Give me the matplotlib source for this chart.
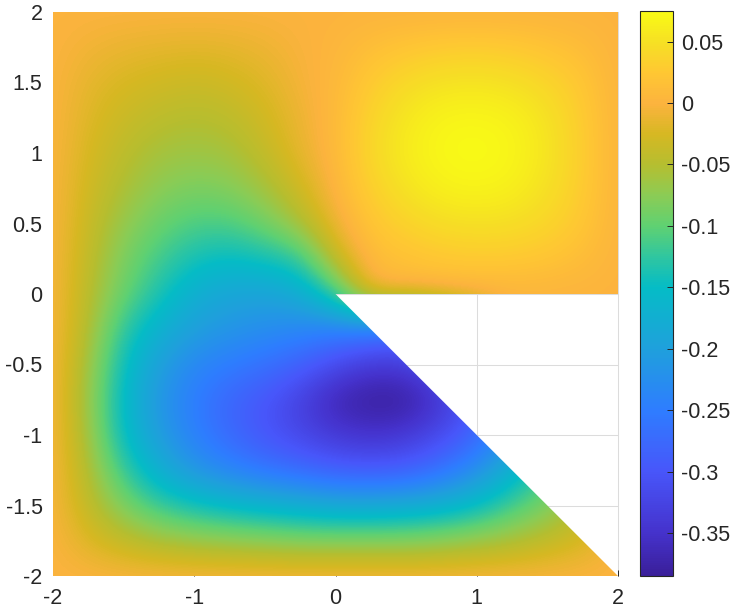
import numpy as np
import matplotlib
matplotlib.use("Agg")
import matplotlib.pyplot as plt
from matplotlib.colors import LinearSegmentedColormap, Normalize
from matplotlib.patches import Polygon

plt.rcParams["font.family"] = ["Liberation Sans", "DejaVu Sans"]
plt.rcParams["axes.unicode_minus"] = False

# field values on a 0.25 grid (x from -2 to 2)
# entries inside the cut-out wedge are never seen, they only keep the edge smooth
row_p200 = [0, 0, 0, 0, 0, 0, 0, 0, 0, 0, 0, 0, 0, 0, 0, 0, 0]
row_p175 = [0, -.007, -.012, -.015, -.017, -.015, -.010, -.002, .003, .014, .022, .028, .030, .027, .020, .012, 0]
row_p150 = [0, -.015, -.025, -.030, -.035, -.030, -.020, -.005, .006, .028, .044, .052, .054, .050, .040, .024, 0]
row_p125 = [0, -.020, -.035, -.045, -.050, -.045, -.030, -.010, .008, .038, .057, .068, .070, .066, .052, .030, 0]
row_p100 = [0, -.025, -.045, -.060, -.065, -.060, -.040, -.015, .008, .042, .061, .072, .075, .070, .055, .032, 0]
row_p075 = [0, -.030, -.055, -.075, -.085, -.080, -.060, -.030, .003, .034, .053, .065, .068, .064, .050, .030, 0]
row_p050 = [0, -.035, -.070, -.095, -.110, -.110, -.090, -.055, -.008, .022, .037, .047, .050, .048, .040, .024, 0]
row_p025 = [0, -.040, -.085, -.115, -.140, -.150, -.140, -.125, -.035, .010, .018, .025, .028, .027, .022, .012, 0]
row_000 = [0, -.045, -.095, -.135, -.175, -.190, -.195, -.180, -.120, 0, 0, 0, 0, 0, 0, 0, 0]
row_m025 = [0, -.050, -.125, -.170, -.200, -.215, -.225, -.235, -.245, -.250, -.270, -.200, -.100, 0, 0, 0, 0]
row_m050 = [0, -.060, -.145, -.200, -.235, -.250, -.265, -.285, -.315, -.340, -.335, -.300, -.250, -.100, 0, 0, 0]
row_m075 = [0, -.065, -.155, -.215, -.250, -.280, -.300, -.330, -.370, -.385, -.385, -.345, -.300, -.200, -.100, 0, 0]
row_m100 = [0, -.060, -.150, -.205, -.245, -.275, -.300, -.320, -.340, -.350, -.340, -.315, -.280, -.220, -.150, -.050, 0]
row_m125 = [0, -.050, -.120, -.175, -.215, -.240, -.260, -.275, -.290, -.295, -.290, -.265, -.225, -.170, -.120, -.060, 0]
row_m150 = [0, -.040, -.085, -.120, -.140, -.155, -.165, -.175, -.185, -.185, -.180, -.170, -.150, -.115, -.085, -.050, 0]
row_m175 = [0, -.020, -.040, -.055, -.065, -.070, -.075, -.080, -.080, -.080, -.080, -.075, -.065, -.055, -.040, -.025, 0]
row_m200 = [0, 0, 0, 0, 0, 0, 0, 0, 0, 0, 0, 0, 0, 0, 0, 0, 0]

# domain outline (square with the wedge taken out)
domain_x = [-2, 2, 0, 2, 2, -2]
domain_y = [-2, -2, 0, 0, 2, 2]

cbar_values = [-0.35, -0.3, -0.25, -0.2, -0.15, -0.1, -0.05, 0, 0.05]
cbar_labels = ["-0.35", "-0.3", "-0.25", "-0.2", "-0.15", "-0.1", "-0.05", "0", "0.05"]
x_ticks = [-2, -1, 0, 1, 2]
x_labels = ["-2", "-1", "0", "1", "2"]
y_ticks = [-2, -1.5, -1, -0.5, 0, 0.5, 1, 1.5, 2]
y_labels = ["-2", "-1.5", "-1", "-0.5", "0", "0.5", "1", "1.5", "2"]

vmin, vmax = -0.3846, 0.0748

# colours taken from the colorbar, bottom to top
cmap_values = [-0.3846, -0.35, -0.30, -0.25, -0.20, -0.15, -0.125, -0.10, -0.075, -0.05, -0.025, 0, 0.025, 0.05, 0.0748]
cmap_colors = ["#3A1F9A", "#4532CC", "#4856FA", "#2E7DFF", "#1FA0DC", "#05BCC6", "#2FC6A0",
               "#5FD172", "#8BCC55", "#B5BE30", "#D6B822", "#FCB33E", "#FFC733", "#F6E024", "#F9FB15"]
stops = [(v - vmin) / (vmax - vmin) for v in cmap_values]
cmap = LinearSegmentedColormap.from_list("field", list(zip(stops, cmap_colors)), N=256)
norm = Normalize(vmin, vmax)

grid = np.array([row_p200, row_p175, row_p150, row_p125, row_p100, row_p075, row_p050, row_p025, row_000,
                 row_m025, row_m050, row_m075, row_m100, row_m125, row_m150, row_m175, row_m200])

fig = plt.figure(figsize=(7.33, 6.11), dpi=100)
W, H = 733, 611
ax = fig.add_axes([53 / W, 1 - 576 / H, 565 / W, 564 / H])
cax = fig.add_axes([640 / W, 1 - 576 / H, 33 / W, 565 / H])

im = ax.imshow(grid, extent=[-2.125, 2.125, -2.125, 2.125], cmap=cmap, norm=norm,
               interpolation="bicubic", interpolation_stage="data", zorder=1, aspect="auto")
outline = Polygon(list(zip(domain_x, domain_y)), transform=ax.transData, fc="none", ec="none")
ax.add_patch(outline)
im.set_clip_path(outline)

ax.set_xlim(-2, 2)
ax.set_ylim(-2, 2)
ax.set_xticks(x_ticks, x_labels)
ax.set_yticks(y_ticks, y_labels)
ax.set_axisbelow(True)
ax.grid(True, color="#dcdcdc", linewidth=0.75)
ax.tick_params(direction="in", length=4.5, width=0.7, color="#262626", labelcolor="#262626", labelsize=15.5)
ax.tick_params(axis="x", pad=9)
ax.tick_params(axis="y", pad=7.5, length=0)
for s in ax.spines.values():
    s.set_visible(False)

# only the tick at x=2 shows, the others sit under the image
ax.xaxis.get_major_ticks()[0].tick1line.set_visible(False)
ax.xaxis.get_major_ticks()[-1].gridline.set_clip_on(False)

cb = fig.colorbar(im, cax=cax)
cb.set_ticks(cbar_values, labels=cbar_labels)
cax.tick_params(direction="in", length=4.5, width=0.7, color="#262626", labelcolor="#262626", labelsize=15.5, pad=6)
cb.outline.set_linewidth(0.8)
cb.outline.set_edgecolor("#262626")

fig.savefig("out.png", dpi=100)
